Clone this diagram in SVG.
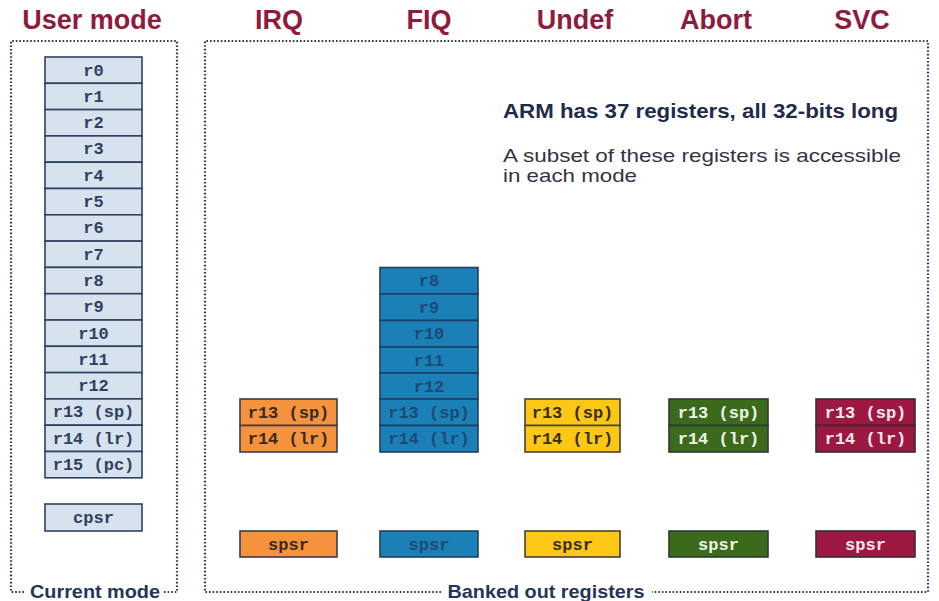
<svg xmlns="http://www.w3.org/2000/svg" width="939" height="601" viewBox="0 0 939 601">
<style>
.title{font-family:"Liberation Sans",Arial,sans-serif;font-weight:bold;font-size:27px;fill:#8e1b3e;text-anchor:middle}
.reg{font-family:"Liberation Mono","Courier New",monospace;font-weight:bold;font-size:17px;text-anchor:middle}
.frame{fill:none;stroke:#2e3a5c;stroke-width:2.2;stroke-dasharray:1.6 2}
.lbl{font-family:"Liberation Sans",Arial,sans-serif;font-weight:bold;font-size:19px;fill:#26345a;text-anchor:middle}
.user rect{fill:#d6e3ef;stroke:#2e4160;stroke-width:1.6}
.user text{fill:#2e4160}
.irq rect{fill:#f5923e;stroke:#3c3c4a;stroke-width:1.6}
.irq text{fill:#3a2a1c}
.fiq rect{fill:#1a80b6;stroke:#1e3f66;stroke-width:1.6}
.fiq text{fill:#1d4a78}
.und rect{fill:#fcc815;stroke:#4a4236;stroke-width:1.6}
.und text{fill:#3a2e10}
.abt rect{fill:#3b6a1c;stroke:#2c3a30;stroke-width:1.6}
.abt text{fill:#eef3e2}
.svc rect{fill:#9d1840;stroke:#3a2a36;stroke-width:1.6}
.svc text{fill:#f5e8ee}
</style>
<rect width="939" height="601" fill="#ffffff"/>
<g id="titles">
<text class="title" x="92" y="29">User mode</text>
<text class="title" x="279" y="29">IRQ</text>
<text class="title" x="429" y="29">FIQ</text>
<text class="title" x="575" y="29">Undef</text>
<text class="title" x="716" y="29">Abort</text>
<text class="title" x="862" y="29">SVC</text>
</g>
<g id="frames">
<path class="frame" d="M24 592 H11 V41 H177 V592 H164"/>
<path class="frame" d="M441 592 H205 V41 H928 V592 H652"/>
<text class="lbl" x="95" y="598" textLength="130" lengthAdjust="spacingAndGlyphs">Current mode</text>
<text class="lbl" x="546" y="598" textLength="197" lengthAdjust="spacingAndGlyphs">Banked out registers</text>
</g>
<g id="info" font-family="Liberation Sans,Arial,sans-serif">
<text x="503" y="118" font-size="19.5" font-weight="bold" fill="#1f2b4d" textLength="395" lengthAdjust="spacingAndGlyphs">ARM has 37 registers, all 32-bits long</text>
<text x="503" y="162" font-size="18.5" fill="#333344" textLength="398" lengthAdjust="spacingAndGlyphs">A subset of these registers is accessible</text>
<text x="503" y="182" font-size="18.5" fill="#333344" textLength="134" lengthAdjust="spacingAndGlyphs">in each mode</text>
</g>
<g id="user" class="user">
<rect x="45" y="57" width="97" height="26.3"/><text class="reg" x="93.5" y="75.5">r0</text>
<rect x="45" y="83.3" width="97" height="26.3"/><text class="reg" x="93.5" y="101.8">r1</text>
<rect x="45" y="109.6" width="97" height="26.3"/><text class="reg" x="93.5" y="128.1">r2</text>
<rect x="45" y="135.9" width="97" height="26.3"/><text class="reg" x="93.5" y="154.4">r3</text>
<rect x="45" y="162.2" width="97" height="26.3"/><text class="reg" x="93.5" y="180.7">r4</text>
<rect x="45" y="188.5" width="97" height="26.3"/><text class="reg" x="93.5" y="207">r5</text>
<rect x="45" y="214.8" width="97" height="26.3"/><text class="reg" x="93.5" y="233.3">r6</text>
<rect x="45" y="241.1" width="97" height="26.3"/><text class="reg" x="93.5" y="259.6">r7</text>
<rect x="45" y="267.4" width="97" height="26.3"/><text class="reg" x="93.5" y="285.9">r8</text>
<rect x="45" y="293.7" width="97" height="26.3"/><text class="reg" x="93.5" y="312.2">r9</text>
<rect x="45" y="320" width="97" height="26.3"/><text class="reg" x="93.5" y="338.5">r10</text>
<rect x="45" y="346.3" width="97" height="26.3"/><text class="reg" x="93.5" y="364.8">r11</text>
<rect x="45" y="372.6" width="97" height="26.3"/><text class="reg" x="93.5" y="391.1">r12</text>
<rect x="45" y="398.9" width="97" height="26.3"/><text class="reg" x="93.5" y="417.4">r13 (sp)</text>
<rect x="45" y="425.2" width="97" height="26.3"/><text class="reg" x="93.5" y="443.7">r14 (lr)</text>
<rect x="45" y="451.5" width="97" height="26.3"/><text class="reg" x="93.5" y="470">r15 (pc)</text>
<rect x="45" y="504" width="97" height="27"/><text class="reg" x="93.5" y="522.5">cpsr</text>
</g>
<g id="irq" class="irq">
<rect x="240" y="399" width="97" height="26.5"/><text class="reg" x="288.5" y="417.5">r13 (sp)</text>
<rect x="240" y="425.5" width="97" height="26.5"/><text class="reg" x="288.5" y="444">r14 (lr)</text>
<rect x="240" y="531" width="97" height="26"/><text class="reg" x="288.5" y="549.5">spsr</text>
</g>
<g id="fiq" class="fiq">
<rect x="380" y="267.5" width="98" height="26.5"/><text class="reg" x="429" y="286">r8</text>
<rect x="380" y="294" width="98" height="26.5"/><text class="reg" x="429" y="312.5">r9</text>
<rect x="380" y="320.5" width="98" height="26.5"/><text class="reg" x="429" y="339">r10</text>
<rect x="380" y="347" width="98" height="26"/><text class="reg" x="429" y="365.5">r11</text>
<rect x="380" y="373" width="98" height="26"/><text class="reg" x="429" y="391.5">r12</text>
<rect x="380" y="399" width="98" height="26.5"/><text class="reg" x="429" y="417.5">r13 (sp)</text>
<rect x="380" y="425.5" width="98" height="26.5"/><text class="reg" x="429" y="444">r14 (lr)</text>
<rect x="380" y="531" width="98" height="26"/><text class="reg" x="429" y="549.5">spsr</text>
</g>
<g id="undef" class="und">
<rect x="525" y="399" width="95" height="26.5"/><text class="reg" x="572.5" y="417.5">r13 (sp)</text>
<rect x="525" y="425.5" width="95" height="26.5"/><text class="reg" x="572.5" y="444">r14 (lr)</text>
<rect x="525" y="531" width="95" height="26"/><text class="reg" x="572.5" y="549.5">spsr</text>
</g>
<g id="abort" class="abt">
<rect x="669" y="399" width="99" height="26.5"/><text class="reg" x="718.5" y="417.5">r13 (sp)</text>
<rect x="669" y="425.5" width="99" height="26.5"/><text class="reg" x="718.5" y="444">r14 (lr)</text>
<rect x="669" y="531" width="99" height="26"/><text class="reg" x="718.5" y="549.5">spsr</text>
</g>
<g id="svc" class="svc">
<rect x="816" y="399" width="99" height="26.5"/><text class="reg" x="865.5" y="417.5">r13 (sp)</text>
<rect x="816" y="425.5" width="99" height="26.5"/><text class="reg" x="865.5" y="444">r14 (lr)</text>
<rect x="816" y="531" width="99" height="26"/><text class="reg" x="865.5" y="549.5">spsr</text>
</g>
<g id="connectors"/>
</svg>
